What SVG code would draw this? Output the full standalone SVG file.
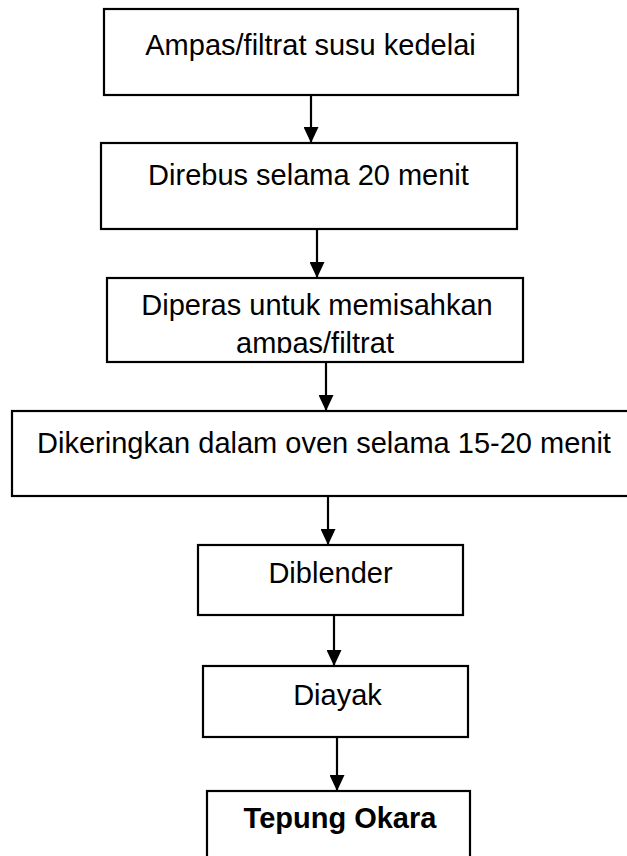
<svg xmlns="http://www.w3.org/2000/svg" width="627" height="856" viewBox="0 0 627 856">
<style>
.box{fill:#fff;stroke:#000;stroke-width:2.2}
.t{font-family:"Liberation Sans",Arial,sans-serif;font-size:29px;fill:#000;text-anchor:middle}
.b{font-weight:bold}
.c{stroke:#000;stroke-width:2.2;fill:none}
</style>
<defs>
<marker id="ah" viewBox="0 0 16 15" refX="16" refY="7.5" markerWidth="16" markerHeight="15" markerUnits="userSpaceOnUse" orient="auto">
<path d="M0,0 L16,7.5 L0,15 Z" fill="#000"/>
</marker>
<clipPath id="clip3"><rect x="107" y="278" width="416" height="75"/></clipPath>
</defs>
<g id="connectors">
<line class="c" x1="311" y1="95" x2="311" y2="143" marker-end="url(#ah)"/>
<line class="c" x1="317" y1="229" x2="317" y2="278" marker-end="url(#ah)"/>
<line class="c" x1="326" y1="362" x2="326" y2="411" marker-end="url(#ah)"/>
<line class="c" x1="328" y1="496" x2="328" y2="545" marker-end="url(#ah)"/>
<line class="c" x1="334" y1="615" x2="334" y2="666" marker-end="url(#ah)"/>
<line class="c" x1="337" y1="737" x2="337" y2="791" marker-end="url(#ah)"/>
</g>
<g id="n1">
<rect class="box" x="104" y="9" width="414" height="86"/>
<text class="t" x="310.5" y="55">Ampas/filtrat susu kedelai</text>
</g>
<g id="n2">
<rect class="box" x="101" y="143" width="416" height="86"/>
<text class="t" x="308.5" y="185">Direbus selama 20 menit</text>
</g>
<g id="n3">
<rect class="box" x="107" y="278" width="416" height="84"/>
<g clip-path="url(#clip3)">
<text class="t" x="317" y="315">Diperas untuk memisahkan</text>
<text class="t" x="315" y="353">ampas/filtrat</text>
</g>
</g>
<g id="n4">
<rect class="box" x="12" y="411" width="630" height="85"/>
<text class="t" x="324" y="453">Dikeringkan dalam oven selama 15-20 menit</text>
</g>
<g id="n5">
<rect class="box" x="198" y="545" width="265" height="70"/>
<text class="t" x="330.5" y="583">Diblender</text>
</g>
<g id="n6">
<rect class="box" x="203" y="666" width="265" height="71"/>
<text class="t" x="337.5" y="705">Diayak</text>
</g>
<g id="n7">
<rect class="box" x="207" y="791" width="263" height="80"/>
<text class="t b" x="340" y="828">Tepung Okara</text>
</g>
</svg>
